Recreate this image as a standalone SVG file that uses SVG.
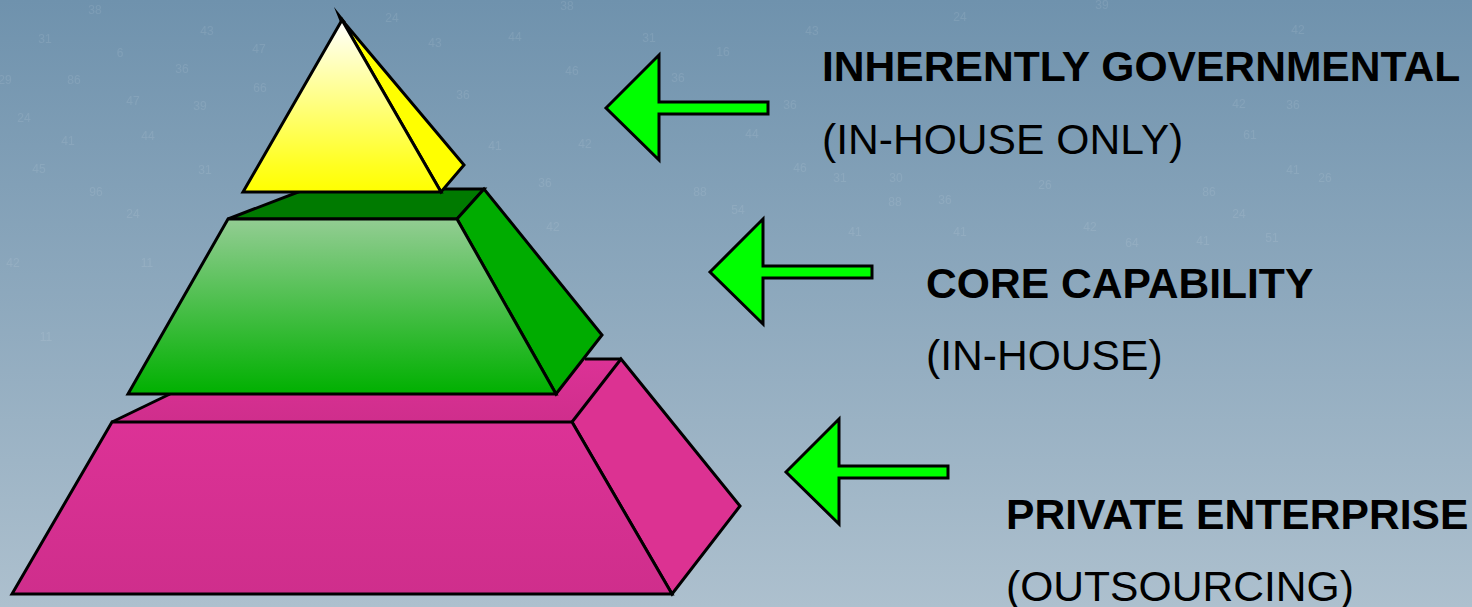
<svg xmlns="http://www.w3.org/2000/svg" width="1472" height="607" viewBox="0 0 1472 607">
  <style>
    .edge { stroke: #000; stroke-width: 3; stroke-linejoin: miter; }
    .arrow { fill: #00ff00; stroke: #000; stroke-width: 3; stroke-linejoin: miter; }
    .head { font-family: "Liberation Sans", Arial, sans-serif; font-weight: bold; font-size: 42.6px; fill: #000; }
    .sub { font-family: "Liberation Sans", Arial, sans-serif; font-size: 42.6px; fill: #000; }
    #backdrop-digits text { font-family: "Liberation Sans", Arial, sans-serif; font-size: 12px; fill: #ffffff; fill-opacity: 0.09; text-anchor: middle; }
  </style>
  <defs>
    <linearGradient id="sky" x1="0" y1="0" x2="0" y2="1">
      <stop offset="0" stop-color="#6f92ad"/>
      <stop offset="1" stop-color="#adc0ce"/>
    </linearGradient>
    <linearGradient id="yellowFace" x1="0" y1="0" x2="0" y2="1">
      <stop offset="0" stop-color="#ffffff"/>
      <stop offset="0.85" stop-color="#ffff20"/>
      <stop offset="1" stop-color="#ffff00"/>
    </linearGradient>
    <linearGradient id="greenFace" x1="0" y1="0" x2="0" y2="1">
      <stop offset="0" stop-color="#93cd93"/>
      <stop offset="1" stop-color="#00b000"/>
    </linearGradient>
    <linearGradient id="pinkFace" x1="0" y1="0" x2="0" y2="1">
      <stop offset="0" stop-color="#dc3296"/>
      <stop offset="1" stop-color="#cf2e8c"/>
    </linearGradient>
    <filter id="soft" x="-5%" y="-5%" width="110%" height="110%">
      <feGaussianBlur stdDeviation="0.7"/>
    </filter>
  </defs>

  <rect width="1472" height="607" fill="url(#sky)"/>

  <!-- faint scatter of numerals over the backdrop -->
  <g id="backdrop-digits" filter="url(#soft)">
    <text x="45" y="43">31</text><text x="207" y="35">43</text><text x="120" y="57">6</text>
    <text x="182" y="73">36</text><text x="74" y="84">86</text><text x="259" y="53">47</text>
    <text x="5" y="84">29</text><text x="133" y="105">47</text><text x="200" y="110">39</text>
    <text x="260" y="92">66</text><text x="24" y="122">24</text><text x="68" y="145">41</text>
    <text x="148" y="140">44</text><text x="39" y="173">45</text><text x="205" y="174">31</text>
    <text x="96" y="196">96</text><text x="392" y="22">24</text><text x="435" y="47">43</text>
    <text x="463" y="99">36</text><text x="495" y="150">41</text>
    <text x="567" y="10">38</text><text x="515" y="41">44</text><text x="649" y="42">31</text>
    <text x="723" y="56">16</text><text x="572" y="75">46</text>
    <text x="678" y="82">36</text><text x="585" y="148">42</text>
    <text x="752" y="138">44</text><text x="790" y="109">36</text>
    <text x="800" y="172">46</text><text x="812" y="35">43</text><text x="545" y="187">36</text>
    <text x="700" y="196">88</text><text x="553" y="231">42</text><text x="738" y="214">54</text>
    <text x="960" y="21">24</text><text x="1102" y="9">39</text><text x="1298" y="34">42</text>
    <text x="1239" y="108">42</text><text x="1293" y="109">36</text>
    <text x="1250" y="139">61</text>
    <text x="1293" y="174">41</text>
    <text x="1325" y="182">26</text><text x="840" y="182">31</text><text x="896" y="182">30</text>
    <text x="1045" y="189">26</text><text x="895" y="206">88</text><text x="1209" y="196">86</text>
    <text x="945" y="204">36</text><text x="1239" y="218">24</text><text x="1090" y="231">42</text>
    <text x="855" y="236">41</text><text x="960" y="236">41</text><text x="1132" y="247">64</text>
    <text x="1203" y="245">41</text><text x="1272" y="242">51</text><text x="95" y="14">38</text>
    <text x="133" y="218">24</text><text x="13" y="267">42</text><text x="147" y="267">11</text>
    <text x="46" y="341">11</text>
  </g>

  <g id="tier-private">
    <polygon points="112,422 170,394 585,359 621,359 572,422" fill="url(#pinkFace)"/>
    <polyline class="edge" fill="none" points="112,422 170,394"/>
    <polyline class="edge" fill="none" points="585,359 621,359"/>
    <polygon class="edge" points="572,422 621,359 740,506 672,594" fill="#dc3292"/>
    <polygon class="edge" points="112,422 572,422 672,594 12,594" fill="url(#pinkFace)"/>
  </g>

  <g id="tier-core">
    <polygon class="edge" points="228,219 306,189 484,189 457,219" fill="#007a00"/>
    <polygon class="edge" points="457,219 484,189 602,335 556,394" fill="#00ac00"/>
    <polygon class="edge" points="228,219 457,219 556,394 128,394" fill="url(#greenFace)"/>
  </g>

  <g id="tier-inherent">
    <polygon class="edge" points="342,20 464,165 441,192" fill="#ffff00"/>
    <polygon points="334,7 346,22 340,22" fill="#000"/>
    <polygon class="edge" points="342,20 441,192 243,192" fill="url(#yellowFace)"/>
  </g>

  <g id="connectors">
    <polygon class="arrow" points="606,108 659,55 659,102 768,102 768,114 659,114 659,160"/>
    <polygon class="arrow" points="710,272 763,219 763,266 872,266 872,278 763,278 763,324"/>
    <polygon class="arrow" points="786,472 839,419 839,466 948,466 948,478 839,478 839,524"/>
  </g>

  <g id="label-inherent">
    <text class="head" x="822" y="81">INHERENTLY GOVERNMENTAL</text>
    <text class="sub" x="822" y="154">(IN-HOUSE ONLY)</text>
  </g>
  <g id="label-core">
    <text class="head" x="926" y="298">CORE CAPABILITY</text>
    <text class="sub" x="926" y="370">(IN-HOUSE)</text>
  </g>
  <g id="label-private">
    <text class="head" x="1006" y="529">PRIVATE ENTERPRISE</text>
    <text class="sub" x="1006" y="601">(OUTSOURCING)</text>
  </g>
</svg>
